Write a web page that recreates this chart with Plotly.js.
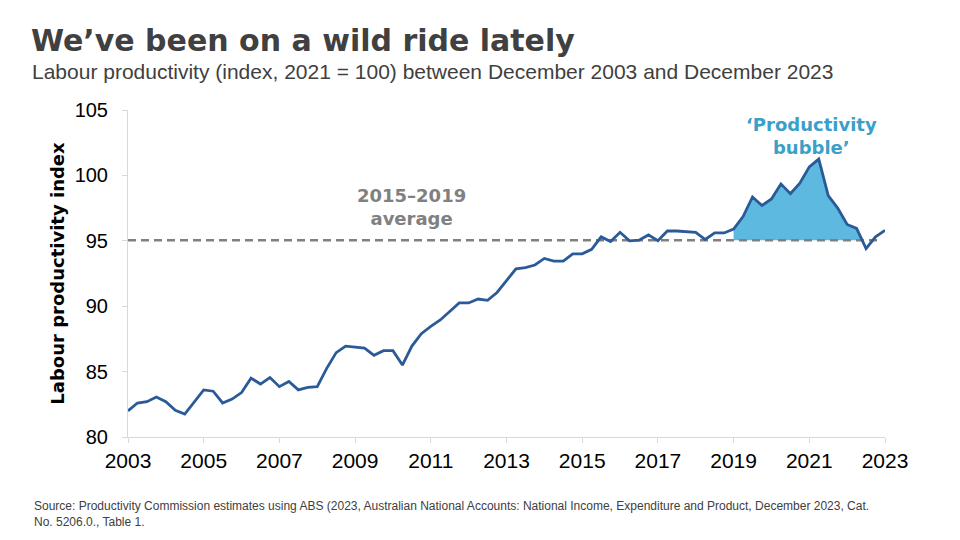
<!DOCTYPE html>
<html>
<head>
<meta charset="utf-8">
<script src="https://cdn.plot.ly/plotly-3.0.1.min.js"></script>
<style>
html,body{margin:0;padding:0;background:#fff;}
#chart{width:960px;height:540px;}
</style>
</head>
<body>
<div id="chart"></div>
<script>
// Quarterly labour productivity index, Dec 2003 .. Dec 2023 (2021 = 100)
var startYear = 2003; // December 2003 quarter
var productivity = [
  82.0, 82.6, 82.7, 83.05, 82.7, 82.05, 81.75, 82.65, 83.6, 83.5,
  82.6, 82.9, 83.4, 84.5, 84.05, 84.55, 83.85, 84.25, 83.6, 83.8,
  83.85, 85.25, 86.45, 86.95, 86.85, 86.8, 86.25, 86.6, 86.6, 85.5,
  86.95, 87.9, 88.45, 88.95, 89.6, 90.25, 90.25, 90.55, 90.45, 91.05,
  91.95, 92.85, 92.95, 93.15, 93.65, 93.45, 93.45, 94.0, 94.0, 94.35,
  95.3, 94.95, 95.65, 95.0, 95.05, 95.45, 95.0, 95.75, 95.75, 95.7,
  95.65, 95.1, 95.6, 95.6, 95.9, 96.85, 98.35, 97.7, 98.2, 99.35,
  98.6, 99.4, 100.65, 101.25, 98.45, 97.5, 96.25, 95.95, 94.4, 95.3,
  95.8
];
var average2015to2019 = 95.05;
var bubbleStartIndex = 64; // December 2019
var tickYears = [2003, 2005, 2007, 2009, 2011, 2013, 2015, 2017, 2019, 2021, 2023];
var tickLabels = ['2003','2005','2007','2009','2011','2013','2015','2017','2019','2021','2023'];
var yTicks = [80, 85, 90, 95, 100, 105];

var quarters = productivity.map(function(v, i){ return startYear + i / 4; });

// bubble polygon: from start index until line crosses back below the average
var bx = [], by = [];
var i = bubbleStartIndex;
while (i < productivity.length && productivity[i] >= average2015to2019) {
  bx.push(quarters[i]); by.push(productivity[i]); i++;
}
if (i < productivity.length) {
  var a = productivity[i-1], b = productivity[i];
  var t = (a - average2015to2019) / (a - b);
  bx.push(quarters[i-1] + t * 0.25); by.push(average2015to2019);
}
bx.push(quarters[bubbleStartIndex]); by.push(average2015to2019);

var traces = [
  {
    x: bx, y: by, type: 'scatter', mode: 'lines', fill: 'toself',
    fillcolor: '#5DB9DF', line: {width: 0, color: '#5DB9DF'}, hoverinfo: 'skip', showlegend: false
  },
  {
    x: [quarters[0], quarters[quarters.length-1] - 0.1],
    y: [average2015to2019, average2015to2019],
    type: 'scatter', mode: 'lines',
    line: {color: '#808080', width: 2.5, dash: '8px,5px'}, showlegend: false
  },
  {
    x: quarters, y: productivity, type: 'scatter', mode: 'lines',
    line: {color: '#2B5A98', width: 2.8}, showlegend: false
  }
];

var L = 128, T = 110, PW = 757, PH = 327;
function px(p){ return (p - L) / PW; }
function py(p){ return 1 + (T - p) / PH; }

var bold = 'DejaVu Sans, Liberation Sans, Arial, sans-serif';
var reg = 'Liberation Sans, Arial, sans-serif';

var layout = {
  width: 960, height: 540,
  margin: {l: L, r: 960 - L - PW, t: T, b: 540 - T - PH},
  paper_bgcolor: '#ffffff', plot_bgcolor: '#ffffff',
  font: {family: reg, color: '#000000'},
  xaxis: {
    range: [2003, 2023], tickmode: 'array', tickvals: tickYears, ticktext: tickLabels,
    showgrid: false, zeroline: false, showline: true, linecolor: '#d9d9d9', linewidth: 1,
    ticks: 'outside', ticklen: 5, tickcolor: '#d9d9d9',
    tickfont: {size: 21, color: '#000000', family: reg}
  },
  yaxis: {
    range: [80, 105], tickmode: 'array', tickvals: yTicks,
    showgrid: false, zeroline: false, showline: true, linecolor: '#d9d9d9', linewidth: 1,
    ticks: 'outside', ticklen: 5, tickcolor: '#d9d9d9', ticklabelstandoff: 10,
    tickfont: {size: 20, color: '#000000', family: reg},
    title: {text: '<b>Labour productivity index</b>', font: {size: 18, color: '#000000', family: bold}, standoff: 5}
  },
  annotations: [
    {xref: 'paper', yref: 'paper', x: px(29), y: py(41), xanchor: 'left', yanchor: 'middle',
     text: '<b>We’ve been on a wild ride lately</b>', showarrow: false,
     font: {size: 30, color: '#404040', family: bold}},
    {xref: 'paper', yref: 'paper', x: px(30), y: py(71), xanchor: 'left', yanchor: 'middle',
     text: 'Labour productivity (index, 2021 = 100) between December 2003 and December 2023', showarrow: false,
     font: {size: 21, color: '#404040', family: reg}},
    {xref: 'x', yref: 'y', x: 2021.07, y: 103.05, xanchor: 'center', yanchor: 'middle',
     text: '<b>‘Productivity<br>bubble’</b>', showarrow: false, align: 'center',
     font: {size: 18, color: '#3A9FC9', family: bold}},
    {xref: 'x', yref: 'y', x: 2010.5, y: 97.55, xanchor: 'center', yanchor: 'middle',
     text: '<b>2015–2019<br>average</b>', showarrow: false, align: 'center',
     font: {size: 18, color: '#808080', family: bold}},
    {xref: 'paper', yref: 'paper', x: px(32), y: py(497), xanchor: 'left', yanchor: 'top',
     text: 'Source: Productivity Commission estimates using ABS (2023, Australian National Accounts: National Income, Expenditure and Product, December 2023, Cat.<br>No. 5206.0., Table 1.',
     showarrow: false, align: 'left', font: {size: 12, color: '#404040', family: reg}}
  ]
};

Plotly.newPlot('chart', traces, layout, {displayModeBar: false, staticPlot: true});
</script>
</body>
</html>
